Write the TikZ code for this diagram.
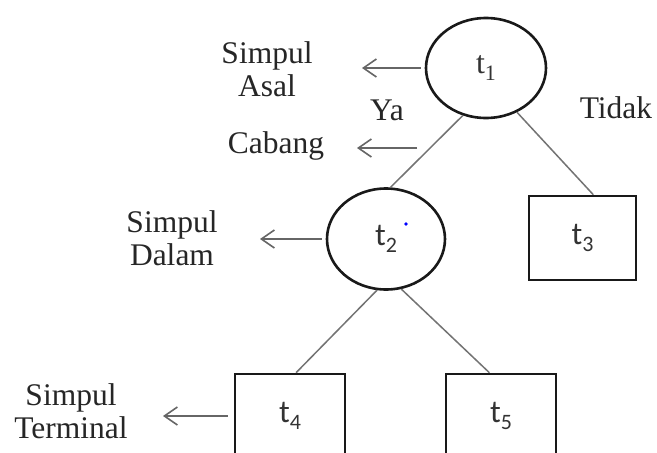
\documentclass[tikz,border=0pt]{standalone}
\usepackage{fontspec}
\setmainfont{Liberation Serif}
\newfontfamily\tfont{Carlito}
\usetikzlibrary{shapes.geometric,arrows.meta}
\newcommand\tsub[2][\tfont]{{#1t\raisebox{-7pt}{\fontsize{22}{22}\selectfont #2}}}
\begin{document}
\begin{tikzpicture}[x=1pt,y=-1pt,
  lbl/.style={font=\fontsize{31.5}{33}\selectfont, text=black!85, align=center, inner sep=0pt},
  ell/.style={ellipse, draw=black!90, line width=2.6pt, minimum width=120pt, minimum height=100pt, inner sep=0pt, text=black!80, font=\fontsize{32}{34}\selectfont},
  boxnode/.style={rectangle, draw=black!90, line width=2.6pt, minimum width=108pt, minimum height=84pt, inner sep=0pt, text=black!80, font=\fontsize{32}{34}\selectfont},
  edge/.style={draw=black!55, line width=1.5pt},
  pointer/.style={draw=black!60, line width=1.6pt, -{Straight Barb[length=13pt,width=18pt,line width=1.6pt]}}]
\clip (0,0) rectangle (657,453);
\fill[white] (0,0) rectangle (657,453);

% tree nodes
\node[ell] (t1) at (486,68) {\tsub[\rmfamily]{1}};
\node[ell, minimum width=118pt, minimum height=101pt] (t2) at (386,239) {\tsub{2}};
\node[boxnode, minimum width=107pt] (t3) at (582.5,238) {\tsub{3}};
\node[boxnode, minimum width=110pt] (t4) at (290,416) {\tsub{4}};
\node[boxnode, minimum width=110pt] (t5) at (501,416) {\tsub{5}};

\fill[blue] (406,224) circle (1.8pt);

% branches
\draw[edge] (t1.244) -- (t2.85);
\draw[edge] (t1.305) -- (t3.76);
\draw[edge] (t2.260) -- (t4.82);
\draw[edge] (t2.287) -- (t5.105);

% labels
\node[lbl] (asal) at (267,69) {Simpul\\Asal};
\node[lbl] (ya) at (387,110) {Ya};
\node[lbl] (tidak) at (616,108) {Tidak};
\node[lbl] (cabang) at (276,146) {Cabang};
\node[lbl] (dalam) at (172,238) {Simpul\\Dalam};
\node[lbl] (terminal) at (71,411) {Simpul\\Terminal};

% pointers
\coordinate (pa) at (362,0);
\coordinate (pcs) at (417,148);
\coordinate (pce) at (357,148);
\coordinate (pd) at (260,0);
\coordinate (pt) at (163,0);
\draw[pointer] ([xshift=-4pt]t1.west) -- (t1.west -| pa);
\draw[pointer] (pcs) -- (pce);
\draw[pointer] ([xshift=-4pt]t2.west) -- (t2.west -| pd);
\draw[pointer] ([xshift=-6pt]t4.west) -- (t4.west -| pt);
\end{tikzpicture}
\end{document}
